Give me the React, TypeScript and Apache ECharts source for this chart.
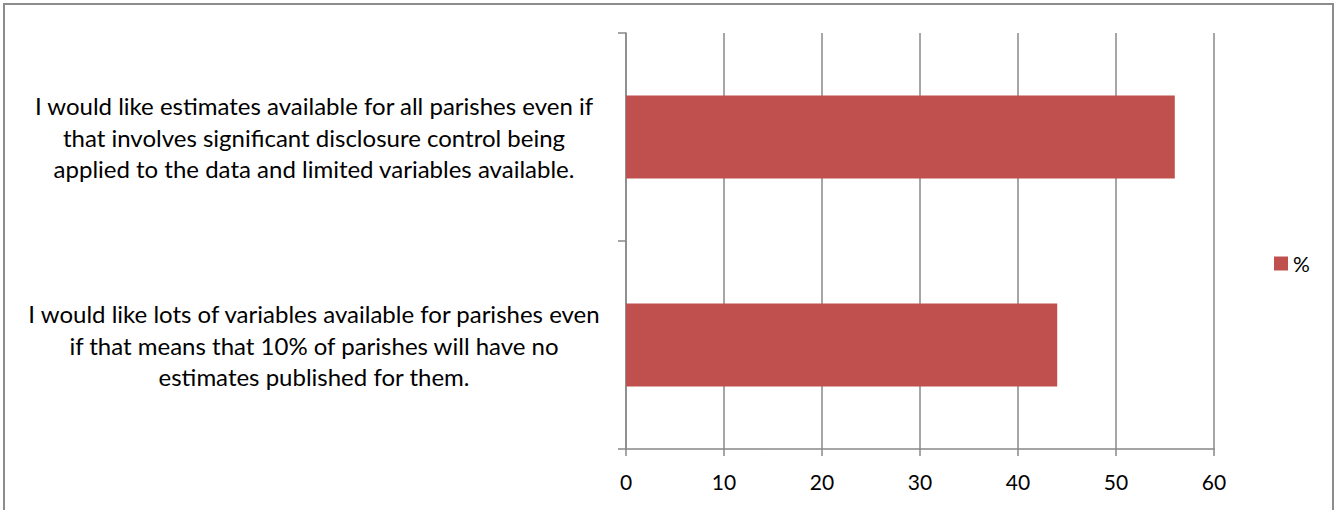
import React, { useEffect, useRef } from "react";
import * as echarts from "echarts";

const categories = [
  "I would like estimates available for all parishes even if\nthat involves significant disclosure control being\napplied to the data and limited variables available.",
  "I would like lots of variables available for parishes even\nif that means that 10% of parishes will have no\nestimates published for them.",
];
const values = [56, 44];
const seriesName = "%";
const xTicks = { min: 0, max: 60, interval: 10 };

const FONT = "Lato, 'Open Sans', sans-serif";

export default function App() {
  const ref = useRef<HTMLDivElement>(null);
  useEffect(() => {
    document.body.style.margin = "0";
    const chart = echarts.init(ref.current!, undefined, { renderer: "svg" });
    chart.setOption({
      animation: false,
      backgroundColor: "#ffffff",
      graphic: [
        {
          type: "rect",
          shape: { x: 4, y: 4, width: 1329, height: 540 },
          style: { fill: "none", stroke: "#8c8c8c", lineWidth: 2 },
          silent: true,
        },
      ],
      grid: { left: 626, top: 33, right: 125, bottom: 61, containLabel: false },
      legend: {
        data: [seriesName],
        left: 1269,
        top: 248,
        orient: "vertical",
        itemWidth: 14,
        itemHeight: 14,
        icon: "rect",
        itemGap: 6,
        textStyle: { fontFamily: FONT, fontSize: 21, color: "#000" },
      },
      xAxis: {
        type: "value",
        min: xTicks.min,
        max: xTicks.max,
        interval: xTicks.interval,
        axisLine: { show: true, lineStyle: { color: "#888", width: 1.5 } },
        axisTick: { show: true, length: 7, lineStyle: { color: "#888", width: 1.5 } },
        splitLine: { show: true, lineStyle: { color: "#888", width: 1.5 } },
        axisLabel: { fontFamily: FONT, fontSize: 21, color: "#000", margin: 22 },
      },
      yAxis: {
        type: "category",
        data: categories,
        inverse: true,
        axisLine: { show: true, lineStyle: { color: "#888", width: 1.5 } },
        axisTick: { show: true, length: 8, lineStyle: { color: "#888", width: 1.5 } },
        splitLine: { show: false },
        axisLabel: {
          fontFamily: FONT,
          fontSize: 24,
          color: "#000",
          align: "center",
          margin: 312,
          lineHeight: 31.5,
        },
      },
      series: [
        {
          name: seriesName,
          type: "bar",
          data: values,
          barCategoryGap: "60%",
          itemStyle: { color: "#C0504D" },
        },
      ],
    });
    return () => chart.dispose();
  }, []);
  return <div ref={ref} style={{ width: 1339, height: 510 }} />;
}
